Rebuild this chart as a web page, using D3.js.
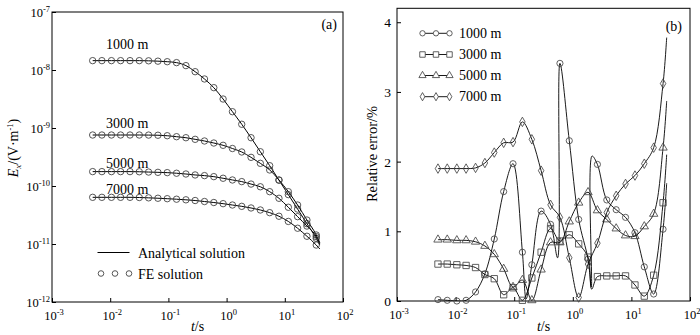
<!DOCTYPE html>
<html lang="en">
<head>
  <meta charset="UTF-8">
  <title>TEM response and relative error</title>
  <style>
    body { margin: 0; background: #fff; }
    svg { display: block; font-family: "Liberation Serif", "Times New Roman", serif; }
  </style>
</head>
<body>
  <script src="https://d3js.org/d3.v7.min.js"></script>
  <script>
    // sampling times (s) of the FE markers, plus the last time of the curves
    const times = [0.005, 0.0072, 0.0105, 0.0151, 0.0219, 0.0316, 0.0457, 0.0661, 0.0955, 0.138,
      0.2, 0.288, 0.417, 0.603, 0.871, 1.26, 1.82, 2.63, 3.8, 5.5, 7.94, 11.5, 16.6, 24, 34.7];
    const tEnd = 40;
    const offsets = ['1000 m', '3000 m', '5000 m', '7000 m'];

    // (a) Ex in V/m (25 marker times + tEnd)
    const ex1000 = [1.45e-8, 1.45e-8, 1.45e-8, 1.45e-8, 1.45e-8, 1.45e-8, 1.44e-8, 1.42e-8, 1.39e-8, 1.34e-8,
      1.19e-8, 9.35e-9, 7.0e-9, 4.96e-9, 3.16e-9, 1.91e-9, 1.16e-9, 6.8e-10, 3.9e-10, 2.24e-10,
      1.26e-10, 7.1e-11, 4.0e-11, 2.24e-11, 1.25e-11, 9.6e-12];
    const ex3000 = [7.57e-10, 7.57e-10, 7.57e-10, 7.57e-10, 7.57e-10, 7.57e-10, 7.55e-10, 7.5e-10, 7.36e-10, 7.08e-10,
      6.8e-10, 6.38e-10, 5.97e-10, 5.51e-10, 5.03e-10, 4.43e-10, 3.86e-10, 3.12e-10, 2.46e-10, 1.89e-10,
      1.27e-10, 7.98e-11, 4.7e-11, 2.59e-11, 1.43e-11, 1.05e-11];
    const ex5000 = [1.77e-10, 1.77e-10, 1.77e-10, 1.77e-10, 1.77e-10, 1.76e-10, 1.74e-10, 1.72e-10, 1.70e-10, 1.66e-10,
      1.61e-10, 1.55e-10, 1.51e-10, 1.45e-10, 1.36e-10, 1.27e-10, 1.19e-10, 1.08e-10, 9.7e-11, 7.98e-11,
      6.14e-11, 4.3e-11, 2.96e-11, 2.04e-11, 1.34e-11, 1.0e-11];
    const ex7000 = [6.38e-11, 6.38e-11, 6.38e-11, 6.38e-11, 6.38e-11, 6.33e-11, 6.25e-11, 6.15e-11, 6.04e-11, 5.92e-11,
      5.78e-11, 5.62e-11, 5.40e-11, 5.19e-11, 4.96e-11, 4.70e-11, 4.46e-11, 4.18e-11, 3.86e-11, 3.47e-11,
      3.01e-11, 2.45e-11, 1.87e-11, 1.36e-11, 9.6e-12, 8.2e-12];

    // (b) relative error in % (25 marker times + tEnd)
    const err1000 = [0.02, 0.01, 0.0, 0.01, 0.13, 0.39, 0.89, 1.57, 1.97, 0.70,
      0.52, 1.29, 1.10, 3.41, 2.30, 1.17, 0.60, 1.96, 1.45, 1.31,
      1.20, 0.98, 0.49, 0.10, 1.03, 1.69];
    const err3000 = [0.53, 0.53, 0.52, 0.51, 0.48, 0.38, 0.32, 0.09, 0.19, 0.01,
      0.33, 0.70, 1.04, 0.86, 0.95, 0.82, 0.63, 0.35, 0.36, 0.36,
      0.36, 0.23, 0.07, 0.37, 1.41, 2.10];
    const err5000 = [0.88, 0.88, 0.87, 0.87, 0.85, 0.79, 0.67, 0.46, 0.20, 0.30,
      0.01, 0.45, 0.84, 0.84, 1.14, 1.41, 1.56, 1.30, 1.17, 1.04,
      0.94, 0.93, 1.07, 1.25, 2.20, 2.87];
    const err7000 = [1.90, 1.90, 1.90, 1.90, 1.91, 1.98, 2.13, 2.27, 2.28, 2.57,
      2.32, 1.87, 1.38, 1.20, 0.62, 0.05, 0.53, 0.83, 1.27, 1.51,
      1.68, 1.80, 1.97, 2.20, 3.12, 3.78];
    // unmarked turning points of the error curves [t, %]
    const knots1000 = [[0.16, 0.03], [0.55, 0.62], [2.07, 0.2], [2.13, 2.08]];
    const knots3000 = [[2.1, 0.17]];

    const xTicks = [1e-3, 1e-2, 1e-1, 1, 10, 100];
    const yTicksA = [1e-12, 1e-11, 1e-10, 1e-9, 1e-8, 1e-7];
    const yTicksB = [0, 1, 2, 3, 4];

    const width = 700;
    const height = 335;
    const boxA = { left: 52, right: 343, top: 12, bottom: 302 };
    const boxB = { left: 397, right: 690, top: 8.3, bottom: 301 };
    const ink = '#000';
    const markInk = '#444';

    const svg = d3.select('body').append('svg')
      .attr('width', width)
      .attr('height', height);

    const lineTimes = times.concat([tEnd]);

    function pow10Label(sel, v) {
      const e = Math.round(Math.log10(v));
      sel.append('tspan').text('10');
      sel.append('tspan').attr('dy', -5).attr('font-size', 8.5).text(e);
    }

    function frame(box) {
      svg.append('rect')
        .attr('x', box.left).attr('y', box.top)
        .attr('width', box.right - box.left).attr('height', box.bottom - box.top)
        .attr('fill', 'none').attr('stroke', ink).attr('stroke-width', 1);
    }

    function xAxisLog(x, box) {
      svg.append('g')
        .attr('transform', `translate(0, ${box.bottom})`)
        .call(d3.axisBottom(x).tickValues(xTicks).tickSize(-4).tickFormat(''))
        .call(g => g.select('.domain').remove());
      svg.append('g').selectAll('text')
        .data(xTicks)
        .join('text')
        .attr('x', d => x(d) + 2)
        .attr('y', box.bottom + 18)
        .attr('text-anchor', 'middle')
        .attr('font-size', 12.5)
        .each(function (d) { pow10Label(d3.select(this), d); });
      const t = svg.append('text')
        .attr('x', (box.left + box.right) / 2)
        .attr('y', 331)
        .attr('text-anchor', 'middle')
        .attr('font-size', 14);
      t.append('tspan').attr('font-style', 'italic').text('t');
      t.append('tspan').text('/s');
    }

    // ---------- (a) ----------
    const xA = d3.scaleLog().domain([1e-3, 1e2]).range([boxA.left, boxA.right]);
    const yA = d3.scaleLog().domain([1e-12, 1e-7]).range([boxA.bottom, boxA.top]);

    svg.append('g')
      .attr('transform', `translate(${boxA.left}, 0)`)
      .call(d3.axisLeft(yA).tickValues(yTicksA).tickSize(-4).tickFormat(''))
      .call(g => g.select('.domain').remove());
    svg.append('g').selectAll('text')
      .data(yTicksA)
      .join('text')
      .attr('x', boxA.left - 2)
      .attr('y', d => yA(d) + 5)
      .attr('text-anchor', 'end')
      .attr('font-size', 12.5)
      .each(function (d) { pow10Label(d3.select(this), d); });
    xAxisLog(xA, boxA);
    frame(boxA);

    const yLabA = svg.append('text')
      .attr('transform', 'translate(18, 148) rotate(-90)')
      .attr('text-anchor', 'middle')
      .attr('font-size', 14);
    yLabA.append('tspan').attr('font-style', 'italic').text('E');
    yLabA.append('tspan').attr('font-style', 'italic').attr('font-size', 9).attr('dy', 3).text('x');
    yLabA.append('tspan').attr('dy', -3).text('/(V·m');
    yLabA.append('tspan').attr('font-size', 8.5).attr('dy', -5).text('-1');
    yLabA.append('tspan').attr('dy', 5).text(')');

    const exSeries = [ex1000, ex3000, ex5000, ex7000];
    const lineA = d3.line()
      .x(d => xA(d[0]))
      .y(d => yA(d[1]))
      .curve(d3.curveMonotoneX);

    exSeries.forEach(vals => {
      const pts = lineTimes.map((t, i) => [t, vals[i]]);
      svg.append('path')
        .datum(pts)
        .attr('d', lineA)
        .attr('fill', 'none')
        .attr('stroke', ink)
        .attr('stroke-width', 1);
      svg.append('g').selectAll('circle')
        .data(pts.slice(0, times.length))
        .join('circle')
        .attr('cx', d => xA(d[0]))
        .attr('cy', d => yA(d[1]))
        .attr('r', 3.2)
        .attr('fill', 'none')
        .attr('stroke', markInk)
        .attr('stroke-width', 0.9);
    });

    const curveLabelsY = [49, 127.5, 167.5, 194];
    svg.append('g').selectAll('text')
      .data(offsets)
      .join('text')
      .attr('x', 106)
      .attr('y', (d, i) => curveLabelsY[i])
      .attr('font-size', 14)
      .text(d => d);

    svg.append('text')
      .attr('x', 337).attr('y', 29)
      .attr('text-anchor', 'end')
      .attr('font-size', 14)
      .text('(a)');

    // legend (a)
    svg.append('line')
      .attr('x1', 97.5).attr('x2', 129.5)
      .attr('y1', 252.5).attr('y2', 252.5)
      .attr('stroke', ink).attr('stroke-width', 1);
    svg.append('text').attr('x', 138).attr('y', 257.5).attr('font-size', 14).text('Analytical solution');
    svg.append('g').selectAll('circle')
      .data([101, 115, 129])
      .join('circle')
      .attr('cx', d => d).attr('cy', 273.5).attr('r', 2.8)
      .attr('fill', 'none').attr('stroke', markInk).attr('stroke-width', 0.9);
    svg.append('text').attr('x', 138).attr('y', 278.5).attr('font-size', 14).text('FE solution');

    // ---------- (b) ----------
    const xB = d3.scaleLog().domain([1e-3, 1e2]).range([boxB.left, boxB.right]);
    const yB = d3.scaleLinear().domain([0, 4.2]).range([boxB.bottom, boxB.top]);

    svg.append('g')
      .attr('transform', `translate(${boxB.left}, 0)`)
      .call(d3.axisLeft(yB).tickValues(yTicksB).tickSize(-4).tickFormat(''))
      .call(g => g.select('.domain').remove());
    svg.append('g').selectAll('text')
      .data(yTicksB)
      .join('text')
      .attr('x', boxB.left - 6)
      .attr('y', d => yB(d) + 5)
      .attr('text-anchor', 'end')
      .attr('font-size', 13.5)
      .text(d => d);
    xAxisLog(xB, boxB);
    frame(boxB);

    svg.append('text')
      .attr('transform', 'translate(377, 154) rotate(-90)')
      .attr('text-anchor', 'middle')
      .attr('font-size', 14.5)
      .text('Relative error/%');

    svg.append('defs').append('clipPath').attr('id', 'clipB')
      .append('rect')
      .attr('x', boxB.left).attr('y', boxB.top)
      .attr('width', boxB.right - boxB.left).attr('height', boxB.bottom - boxB.top);

    const errSeries = [err1000, err3000, err5000, err7000];
    const knotSeries = [knots1000, knots3000, [], []];
    const shapes = [d3.symbolCircle, d3.symbolSquare, d3.symbolTriangle, d3.symbolDiamond];
    const shapeSizes = [30, 40, 30, 26];

    const lineB = d3.line()
      .x(d => xB(d[0]))
      .y(d => yB(d[1]))
      .curve(d3.curveCatmullRom.alpha(0.5));

    errSeries.forEach((vals, k) => {
      const pts = lineTimes.map((t, i) => [t, vals[i]])
        .concat(knotSeries[k])
        .sort((a, b) => a[0] - b[0]);
      svg.append('path')
        .datum(pts)
        .attr('clip-path', 'url(#clipB)')
        .attr('d', lineB)
        .attr('fill', 'none')
        .attr('stroke', ink)
        .attr('stroke-width', 0.9);
      svg.append('g').selectAll('path')
        .data(times.map((t, i) => [t, vals[i]]))
        .join('path')
        .attr('transform', d => `translate(${xB(d[0])}, ${yB(d[1])})`)
        .attr('d', d3.symbol().type(shapes[k]).size(shapeSizes[k]))
        .attr('fill', 'none')
        .attr('stroke', markInk)
        .attr('stroke-width', 0.85);
    });

    svg.append('text')
      .attr('x', 682).attr('y', 31)
      .attr('text-anchor', 'end')
      .attr('font-size', 14)
      .text('(b)');

    // legend (b)
    const legRowsY = [33.3, 54.5, 75.5, 96.7];
    offsets.forEach((name, k) => {
      const y = legRowsY[k];
      svg.append('line')
        .attr('x1', 422.5).attr('x2', 449.5)
        .attr('y1', y).attr('y2', y)
        .attr('stroke', ink).attr('stroke-width', 0.9);
      svg.append('g').selectAll('path')
        .data([422.5, 436, 449.5])
        .join('path')
        .attr('transform', d => `translate(${d}, ${y})`)
        .attr('d', d3.symbol().type(shapes[k]).size(shapeSizes[k] * 0.75))
        .attr('fill', '#fff')
        .attr('stroke', markInk)
        .attr('stroke-width', 0.85);
      svg.append('text')
        .attr('x', 459).attr('y', y + 4.5)
        .attr('font-size', 14)
        .text(name);
    });
  </script>
</body>
</html>
